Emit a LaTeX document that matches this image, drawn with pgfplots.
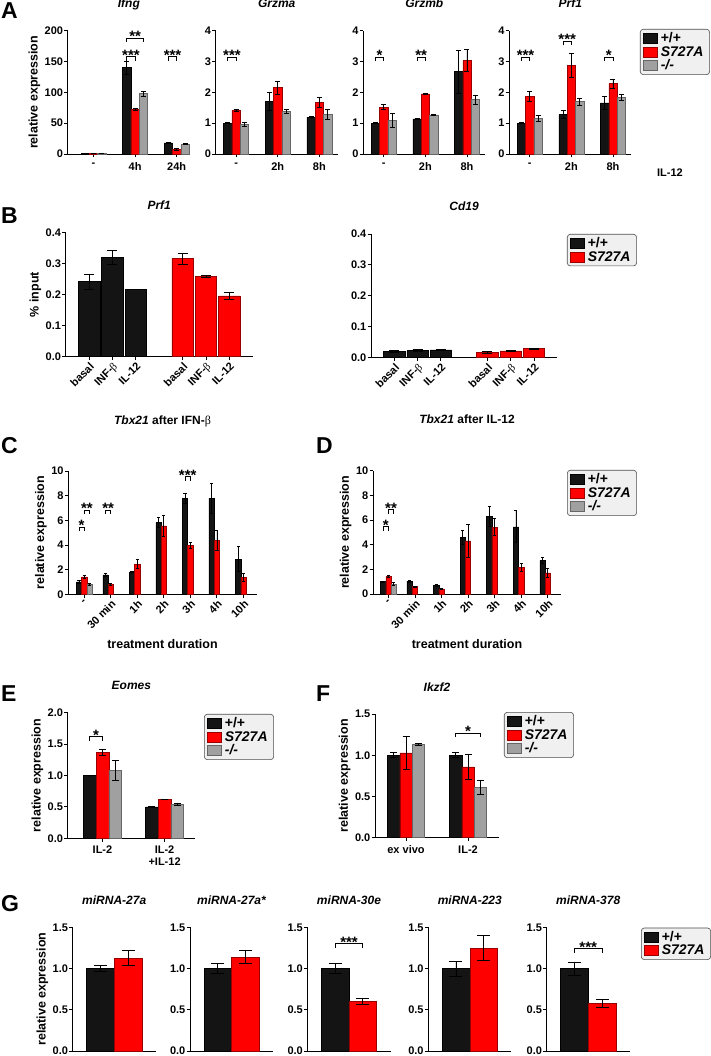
\documentclass[border=0pt]{standalone}
\usepackage{fontspec}
\setmainfont{Liberation Sans}
\newfontfamily\serif{Liberation Serif}
\usepackage{pgfplots}
\pgfplotsset{compat=1.18}

\newcommand\fTk{\fontsize{11}{12}\selectfont\bfseries}
\newcommand\fLb{\fontsize{12.5}{13}\selectfont\bfseries}
\newcommand\fSt{\fontsize{15}{15}\selectfont\bfseries}
\newcommand\fTi{\fontsize{12}{13}\selectfont\bfseries\itshape}
\newcommand\fLg{\fontsize{14}{15}\selectfont\bfseries}
\newcommand\fPl{\fontsize{23}{24}\selectfont\bfseries}
\newcommand\bet{{\serif\mdseries β}}

\definecolor{bk}{HTML}{141414}
\definecolor{rd}{HTML}{FF0000}
\definecolor{gy}{HTML}{A0A0A0}

\pgfplotsset{
  pr/.style={
    scale only axis, ybar, ymin=0, enlargelimits=false, clip=false,
    axis x line*=bottom, axis y line*=left,
    axis line style={line width=0.9pt, -},
    every tick/.append style={line width=0.9pt, black},
    major tick length=3.5pt, tick align=outside,
    tick label style={font=\fTk, inner sep=1pt},
    /pgf/number format/assume math mode=true,
    ylabel style={font=\fLb},
    xlabel style={font=\fLb, yshift=-5pt},
    title style={font=\fTi, anchor=base, at={(0.5,1)}, yshift=17pt},
    legend cell align=left,
    legend style={font=\fLg, rounded corners=3pt, fill=black!6, draw=black!70,
      line width=0.6pt, inner xsep=3pt, inner ysep=2.5pt, row sep=0.5pt,
      nodes={inner xsep=3pt, inner ysep=0.8pt}, anchor=north west},
    legend image code/.code={\draw[##1, sharp corners] (0pt,-5pt) rectangle (14pt,5pt);},
    every axis plot/.append style={/pgfplots/error bars/y dir=both, /pgfplots/error bars/y explicit},
    emk=2.5pt,
  },
  emk/.style={every axis plot/.append style={
    /pgfplots/error bars/error bar style={line width=0.7pt, black, solid},
    /pgfplots/error bars/error mark options={rotate=90, mark size=#1, line width=0.7pt, black, solid}}},
  one/.style={yticklabel style={/pgf/number format/.cd, fixed, fixed zerofill, precision=1}},
  bk/.style={fill=bk, draw=black, line width=0.5pt, bar shift=#1},
  rd/.style={fill=rd, draw=red!60!black, line width=0.5pt, bar shift=#1},
  gy/.style={fill=gy, draw=black!60, line width=0.5pt, bar shift=#1},
}

% significance bracket: x1, x2, y, stars
\newcommand\brk[4]{%
  \draw[line width=0.7pt, black, sharp corners] ([yshift=-4pt]axis cs:#1,#3) -- (axis cs:#1,#3) -- (axis cs:#2,#3) -- ([yshift=-4pt]axis cs:#2,#3);
  \path (axis cs:#1,#3) -- node[anchor=base, yshift=-3.5pt, inner sep=0pt, font=\fSt] {#4} (axis cs:#2,#3);}

\begin{document}
\begin{tikzpicture}
\path[use as bounding box] (0pt,0pt) rectangle (710pt,-1056pt);

% panel letters
\node[font=\fPl, anchor=base west, inner sep=0pt] at (1pt,-18.3pt) {A};
\node[font=\fPl, anchor=base west, inner sep=0pt] at (1pt,-223.3pt) {B};
\node[font=\fPl, anchor=base west, inner sep=0pt] at (1pt,-453.3pt) {C};
\node[font=\fPl, anchor=base west, inner sep=0pt] at (316pt,-453.3pt) {D};
\node[font=\fPl, anchor=base west, inner sep=0pt] at (1pt,-701.7pt) {E};
\node[font=\fPl, anchor=base west, inner sep=0pt] at (316pt,-701.7pt) {F};
\node[font=\fPl, anchor=base west, inner sep=0pt] at (1pt,-911.7pt) {G};
\node[font=\fTk] at (670pt,-173pt) {IL-12};

% ---------------- A ----------------
\pgfplotsset{aX/.style={xticklabel style={yshift=-4pt}}}
\begin{axis}[pr, aX, at={(67.7pt,-154pt)}, width=122.3pt, height=123.3pt,
  xmin=-0.62, xmax=2.32, ymax=200, ytick={0,50,100,150,200},
  xtick={0,1,2}, xticklabels={-,4h,24h}, bar width=0.2,
  title={Ifng}, ylabel={relative expression}]
\addplot[bk=-0.2] coordinates {(0,1) +- (0,0) (1,140) +- (0,10) (2,18) +- (0,1)};
\addplot[rd=0] coordinates {(0,0.6) +- (0,0) (1,72) +- (0,2) (2,8) +- (0,1.5)};
\addplot[gy=0.2] coordinates {(0,0.6) +- (0,0) (1,98) +- (0,4) (2,16) +- (0,1)};
\brk{0.8}{1.0}{158}{***}
\brk{0.8}{1.2}{188}{**}
\brk{1.8}{2.0}{158}{***}
\end{axis}

\begin{axis}[pr, aX, at={(215.7pt,-154pt)}, width=122pt, height=123.3pt,
  xmin=-0.49, xmax=2.44, ymax=4, ytick={0,1,2,3,4},
  xtick={0,1,2}, xticklabels={-,2h,8h}, bar width=0.2, title={Grzma}]
\addplot[bk=-0.2] coordinates {(0,1) +- (0,0.02) (1,1.7) +- (0,0.3) (2,1.2) +- (0,0.02)};
\addplot[rd=0] coordinates {(0,1.42) +- (0,0.03) (1,2.15) +- (0,0.2) (2,1.67) +- (0,0.17)};
\addplot[gy=0.2] coordinates {(0,0.96) +- (0,0.07) (1,1.38) +- (0,0.07) (2,1.28) +- (0,0.17)};
\brk{-0.2}{0}{3.14}{***}
\end{axis}

\begin{axis}[pr, aX, at={(363.3pt,-154pt)}, width=122pt, height=123.3pt,
  xmin=-0.49, xmax=2.44, ymax=4, ytick={0,1,2,3,4},
  xtick={0,1,2}, xticklabels={-,2h,8h}, bar width=0.2, title={Grzmb}]
\addplot[bk=-0.2] coordinates {(0,1) +- (0,0.02) (1,1.14) +- (0,0.03) (2,2.67) +- (0,0.7)};
\addplot[rd=0] coordinates {(0,1.52) +- (0,0.08) (1,1.95) +- (0,0.02) (2,3.03) +- (0,0.35)};
\addplot[gy=0.2] coordinates {(0,1.1) +- (0,0.22) (1,1.27) +- (0,0.03) (2,1.76) +- (0,0.14)};
\brk{-0.2}{0}{3.14}{*}
\brk{0.8}{1.0}{3.14}{**}
\end{axis}

\begin{axis}[pr, aX, at={(509.3pt,-154pt)}, width=122pt, height=123.3pt,
  xmin=-0.49, xmax=2.44, ymax=4, ytick={0,1,2,3,4},
  xtick={0,1,2}, xticklabels={-,2h,8h}, bar width=0.2, title={Prf1},
  legend style={at={(1.071,1.014)}}]
\addplot[bk=-0.2] coordinates {(0,1) +- (0,0.02) (1,1.28) +- (0,0.12) (2,1.66) +- (0,0.2)};
\addplot[rd=0] coordinates {(0,1.87) +- (0,0.15) (1,2.87) +- (0,0.38) (2,2.28) +- (0,0.15)};
\addplot[gy=0.2] coordinates {(0,1.16) +- (0,0.1) (1,1.7) +- (0,0.12) (2,1.83) +- (0,0.1)};
\brk{-0.2}{0}{3.14}{***}
\brk{0.8}{1.0}{3.65}{***}
\brk{1.8}{2.0}{3.14}{*}
\legend{+/+, \textit{S727A}, \textit{-/-}}
\end{axis}

% ---------------- B ----------------
\begin{axis}[pr, one, emk=5pt, at={(65.7pt,-356.7pt)}, width=187pt, height=124pt,
  xmin=-1, xmax=7, ymax=0.4, ytick={0,0.1,0.2,0.3,0.4},
  xtick={0,1,2,4,5,6}, xticklabels={basal,INF-\bet,IL-12,basal,INF-\bet,IL-12},
  xticklabel style={rotate=45, anchor=north east},
  bar width=0.92, title={Prf1}, ylabel={\% input}]
\addplot[bk=0] coordinates {(0,0.242) +- (0,0.025) (1,0.32) +- (0,0.022) (2,0.217) +- (0,0.001)};
\addplot[rd=0] coordinates {(4,0.316) +- (0,0.018) (5,0.26) +- (0,0.003) (6,0.196) +- (0,0.011)};
\end{axis}

\begin{axis}[pr, one, emk=5pt, at={(371pt,-357.7pt)}, width=186.3pt, height=123.7pt,
  xmin=-1, xmax=7, ymax=0.4, ytick={0,0.1,0.2,0.3,0.4},
  xtick={0,1,2,4,5,6}, xticklabels={basal,INF-\bet,IL-12,basal,INF-\bet,IL-12},
  xticklabel style={rotate=45, anchor=north east},
  bar width=0.92, title={Cd19}, legend style={at={(1.052,1.0)}}]
\addplot[bk=0] coordinates {(0,0.020) +- (0,0.003) (1,0.023) +- (0,0.004) (2,0.025) +- (0,0.002)};
\addplot[rd=0] coordinates {(4,0.017) +- (0,0.002) (5,0.022) +- (0,0.003) (6,0.029) +- (0,0.002)};
\legend{+/+, \textit{S727A}}
\end{axis}

% ---------------- C ----------------
\begin{axis}[pr, emk=1.6pt, at={(68.3pt,-594.3pt)}, width=188.4pt, height=123.3pt,
  xmin=-0.6, xmax=6.5, ymax=10, ytick={0,2,4,6,8,10},
  xtick={0,...,6}, xticklabels={-,30 min,1h,2h,3h,4h,10h},
  xticklabel style={rotate=45, anchor=north east},
  bar width=0.2, title={\textit{Tbx21} \upshape after IFN-\bet}, title style={yshift=24pt},
  ylabel={relative expression}, xlabel={treatment duration}]
\addplot[bk=-0.2] coordinates {(0,1.0) +- (0,0.1) (1,1.58) +- (0,0.15) (2,1.82) +- (0,0.05) (3,5.82) +- (0,0.4) (4,7.8) +- (0,0.4) (5,7.78) +- (0,1.2) (6,2.85) +- (0,1.0)};
\addplot[rd=0] coordinates {(0,1.42) +- (0,0.1) (1,0.8) +- (0,0.1) (2,2.45) +- (0,0.35) (3,5.55) +- (0,0.85) (4,3.98) +- (0,0.25) (5,4.35) +- (0,0.8) (6,1.38) +- (0,0.35)};
\addplot[gy=0.2] coordinates {(0,0.82) +- (0,0.1)};
\brk{-0.2}{0}{5.45}{*}
\brk{0}{0.2}{6.83}{**}
\brk{0.8}{1.0}{6.83}{**}
\brk{3.8}{4.0}{9.54}{***}
\end{axis}

% ---------------- D ----------------
\begin{axis}[pr, emk=1.6pt, at={(373pt,-594pt)}, width=188pt, height=123.3pt,
  xmin=-0.58, xmax=6.5, ymax=10, ytick={0,2,4,6,8,10},
  xtick={0,...,6}, xticklabels={-,30 min,1h,2h,3h,4h,10h},
  xticklabel style={rotate=45, anchor=north east},
  bar width=0.2, title={\textit{Tbx21} \upshape after IL-12}, title style={yshift=24pt},
  ylabel={relative expression}, xlabel={treatment duration},
  legend style={at={(1.032,1.006)}}]
\addplot[bk=-0.2] coordinates {(0,1.0) +- (0,0.05) (1,1.05) +- (0,0.08) (2,0.7) +- (0,0.08) (3,4.6) +- (0,0.55) (4,6.3) +- (0,0.8) (5,5.45) +- (0,1.3) (6,2.7) +- (0,0.25)};
\addplot[rd=0] coordinates {(0,1.42) +- (0,0.08) (1,0.6) +- (0,0.05) (2,0.42) +- (0,0.05) (3,4.3) +- (0,1.35) (4,5.42) +- (0,0.7) (5,2.15) +- (0,0.35) (6,1.72) +- (0,0.35)};
\addplot[gy=0.2] coordinates {(0,0.82) +- (0,0.15)};
\brk{-0.2}{0}{5.45}{*}
\brk{0}{0.2}{6.83}{**}
\legend{+/+, \textit{S727A}, \textit{-/-}}
\end{axis}

% ---------------- E ----------------
\begin{axis}[pr, one, emk=3.5pt, at={(67.7pt,-838.3pt)}, width=127.3pt, height=125.6pt,
  xmin=-0.56, xmax=1.49, ymax=2, ytick={0,0.5,1,1.5,2},
  xtick={0,1}, xticklabels={IL-2,IL-2\\+IL-12}, xticklabel style={align=center, yshift=-3pt},
  bar width=0.205, title={Eomes}, ylabel={relative expression},
  legend style={at={(1.071,0.99)}}]
\addplot[bk=-0.205] coordinates {(0,1.0) +- (0,0.005) (1,0.5) +- (0,0.003)};
\addplot[rd=0] coordinates {(0,1.37) +- (0,0.05) (1,0.62) +- (0,0.005)};
\addplot[gy=0.205] coordinates {(0,1.08) +- (0,0.16) (1,0.54) +- (0,0.01)};
\brk{-0.205}{0}{1.62}{*}
\legend{+/+, \textit{S727A}, \textit{-/-}}
\end{axis}

% ---------------- F ----------------
\begin{axis}[pr, one, emk=3.5pt, at={(375pt,-837.7pt)}, width=124pt, height=123.7pt,
  xmin=-0.5, xmax=1.5, ymax=1.5, ytick={0,0.5,1,1.5},
  xtick={0,1}, xticklabels={ex vivo,IL-2}, xticklabel style={yshift=-3pt},
  bar width=0.2, title={Ikzf2}, ylabel={relative expression},
  legend style={at={(1.04,1.016)}}]
\addplot[bk=-0.2] coordinates {(0,1.0) +- (0,0.03) (1,1.0) +- (0,0.03)};
\addplot[rd=0] coordinates {(0,1.03) +- (0,0.2) (1,0.86) +- (0,0.15)};
\addplot[gy=0.2] coordinates {(0,1.13) +- (0,0.01) (1,0.61) +- (0,0.09)};
\brk{0.8}{1.2}{1.27}{*}
\legend{+/+, \textit{S727A}, \textit{-/-}}
\end{axis}

% ---------------- G ----------------
\begin{axis}[pr, one, emk=6.5pt, at={(72.7pt,-1051pt)}, width=83pt, height=123.7pt,
  xmin=-1, xmax=2, ymax=1.5, ytick={0,0.5,1,1.5}, xtick=\empty,
  bar width=1, title={miRNA-27a}, ylabel={relative expression}]
\addplot[bk=0] coordinates {(0,1.0) +- (0,0.04)};
\addplot[rd=0] coordinates {(1,1.13) +- (0,0.09)};
\end{axis}

\begin{axis}[pr, one, emk=6.5pt, at={(190pt,-1051pt)}, width=83pt, height=123.7pt,
  xmin=-1, xmax=2, ymax=1.5, ytick={0,0.5,1,1.5}, xtick=\empty,
  bar width=1, title={miRNA-27a*}]
\addplot[bk=0] coordinates {(0,1.0) +- (0,0.06)};
\addplot[rd=0] coordinates {(1,1.14) +- (0,0.08)};
\end{axis}

\begin{axis}[pr, one, emk=6.5pt, at={(307.5pt,-1051pt)}, width=83pt, height=123.7pt,
  xmin=-1, xmax=2, ymax=1.5, ytick={0,0.5,1,1.5}, xtick=\empty,
  bar width=1, title={miRNA-30e}]
\addplot[bk=0] coordinates {(0,1.0) +- (0,0.06)};
\addplot[rd=0] coordinates {(1,0.6) +- (0,0.04)};
\brk{0}{1}{1.3}{***}
\end{axis}

\begin{axis}[pr, one, emk=6.5pt, at={(428.3pt,-1051pt)}, width=83pt, height=123.7pt,
  xmin=-1, xmax=2, ymax=1.5, ytick={0,0.5,1,1.5}, xtick=\empty,
  bar width=1, title={miRNA-223}]
\addplot[bk=0] coordinates {(0,1.0) +- (0,0.09)};
\addplot[rd=0] coordinates {(1,1.25) +- (0,0.15)};
\end{axis}

\begin{axis}[pr, one, emk=6.5pt, at={(546.7pt,-1051pt)}, width=83pt, height=123.7pt,
  xmin=-1, xmax=2, ymax=1.5, ytick={0,0.5,1,1.5}, xtick=\empty,
  bar width=1, title={miRNA-378}, legend style={at={(1.136,0.997)}}]
\addplot[bk=0] coordinates {(0,1.0) +- (0,0.08)};
\addplot[rd=0] coordinates {(1,0.58) +- (0,0.05)};
\brk{0}{1}{1.24}{***}
\legend{+/+, \textit{S727A}}
\end{axis}
\end{tikzpicture}
\end{document}
